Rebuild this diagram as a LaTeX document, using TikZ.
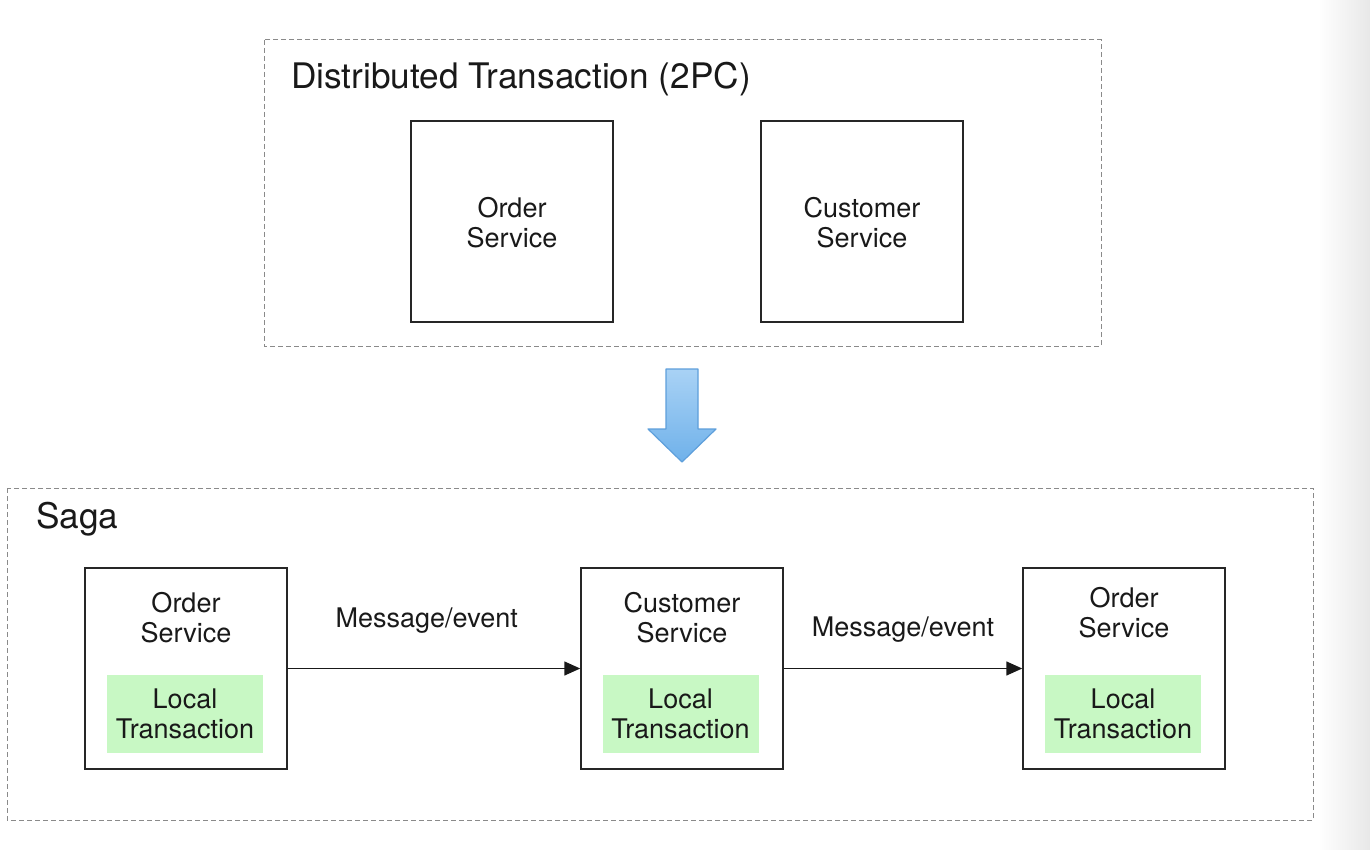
\documentclass[tikz,border=0pt]{standalone}
\usepackage{fontspec}
\setmainfont{TeX Gyre Heros}
\usetikzlibrary{arrows.meta}
\definecolor{lgreen}{HTML}{C8F8C4}
\definecolor{dashgray}{HTML}{8A8A8A}
\definecolor{arrowfillA}{HTML}{A9D2F5}
\definecolor{arrowfillB}{HTML}{6FB1EA}
\definecolor{arrowedge}{HTML}{5E9FDB}
\tikzset{
  frame/.style={draw=dashgray, line width=1pt, dash pattern=on 5pt off 3pt},
  svc/.style={draw=black!85, line width=1.5pt, minimum width=202pt, minimum height=201pt, inner sep=0pt},
  txt/.style={align=center, inner sep=0pt, font=\fontsize{27}{30}\selectfont, text=black!90},
  big/.style={inner sep=0pt, font=\fontsize{35.2}{40}\selectfont, text=black!90, anchor=west},
  local/.style={fill=lgreen, minimum width=156pt, minimum height=78pt, inner sep=0pt, align=center, font=\fontsize{27}{30}\selectfont, text=black!90},
  msg/.style={-{Triangle[length=16pt,width=14pt]}, line width=1.5pt, draw=black!90},
}
\begin{document}
\begin{tikzpicture}[x=1pt,y=-1pt]
\useasboundingbox (0,0) rectangle (1370,850);
\fill[white] (0,0) rectangle (1370,850);
\shade[left color=white, right color=black!9] (1318,0) rectangle (1370,850);

% top frame
\draw[frame] (264,40) rectangle (1101,346);
\node[big] (t1) at (291,79) {Distributed Transaction (2PC)};
\node[svc] (os) at (512,221.5) {};
\node[txt] at (512,223) {Order\\Service};
\node[svc] (cs) at (862,221.5) {};
\node[txt] at (862,223) {Customer\\Service};

% blue arrow
\shade[top color=arrowfillA, bottom color=arrowfillB, draw=arrowedge, line width=1.2pt, line join=round]
  (666,369) -- (698,369) -- (698,429) -- (716,429) -- (682,462) -- (648,429) -- (666,429) -- cycle;

% bottom frame
\draw[frame] (7,488) rectangle (1313,820);
\node[big] (t2) at (36,519) {Saga};

\node[svc] (o1) at (186,668.5) {};
\node[txt] at (186,618) {Order\\Service};
\node[local] (l1) at (185,714) {Local\\Transaction};

\node[svc] (c1) at (682,668.5) {};
\node[txt] at (682,618) {Customer\\Service};
\node[local] (l2) at (680.5,714) {Local\\Transaction};

\node[svc] (o2) at (1124,668.5) {};
\node[txt] at (1124,613) {Order\\Service};
\node[local] (l3) at (1123,714) {Local\\Transaction};

\draw[msg] (o1.east) -- (c1.west) node[pos=0.475, txt, above=34pt] {Message/event};
\draw[msg] (c1.east) -- (o2.west) node[midway, txt, above=25pt] {Message/event};
\end{tikzpicture}
\end{document}
